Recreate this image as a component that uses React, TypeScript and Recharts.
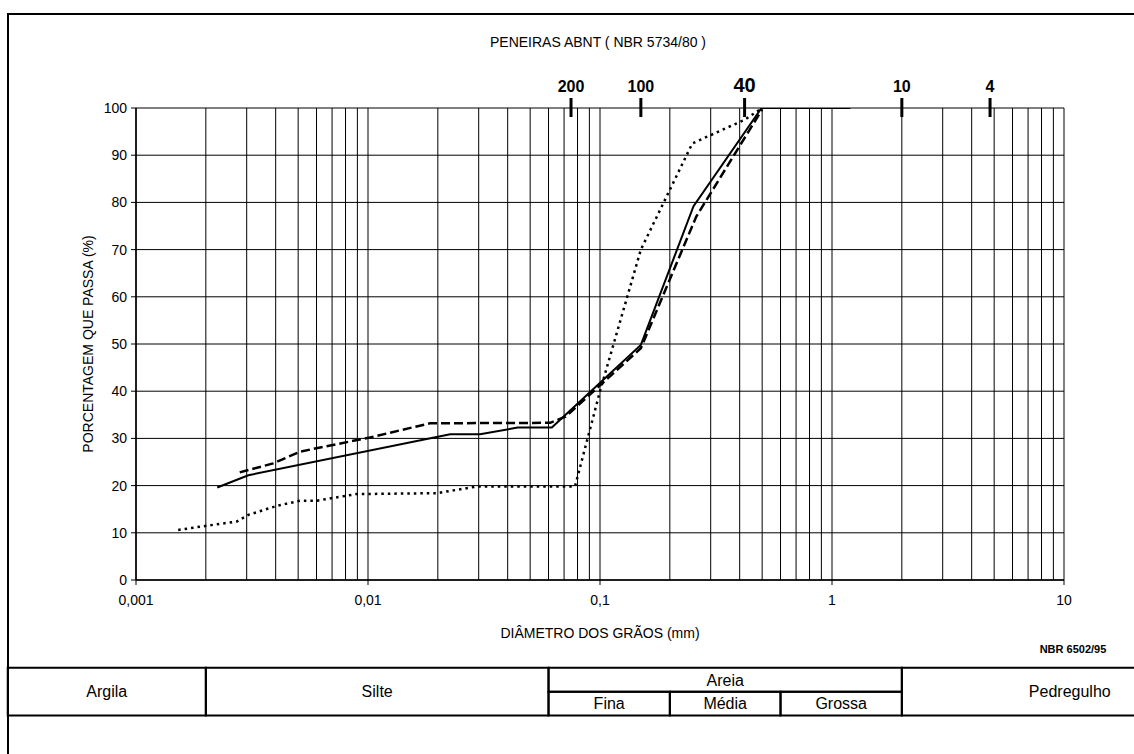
import { LineChart, Line, XAxis, YAxis, CartesianGrid, ReferenceArea, Label } from 'recharts'

// ---- amostras: diâmetro (mm) x porcentagem que passa ----
const amostra1Diam = [0.00224, 0.00305, 0.0226, 0.0304, 0.0442, 0.062, 0.15, 0.253, 0.497, 1.2]
const amostra1Passa = [19.6, 22.2, 30.9, 30.9, 32.3, 32.3, 49.8, 79.2, 100, 100]

const amostra2Diam = [0.0028, 0.0039, 0.0051, 0.0102, 0.0185, 0.061, 0.071, 0.15, 0.26, 0.5]
const amostra2Passa = [22.8, 24.7, 27.2, 30.2, 33.2, 33.3, 34.6, 49.1, 77, 99.7]

const amostra3Diam = [0.00152, 0.00202, 0.00272, 0.00305, 0.00404, 0.0051, 0.006, 0.0089, 0.0198, 0.0294, 0.078, 0.1, 0.15, 0.25, 0.42, 0.5]
const amostra3Passa = [10.6, 11.5, 12.4, 13.8, 15.7, 16.8, 16.8, 18.2, 18.4, 19.8, 19.8, 40, 70, 92.5, 97.5, 100]

// ---- eixos ----
const decadas = [0.001, 0.01, 0.1, 1, 10]
const decadasLabel = ['0,001', '0,01', '0,1', '1', '10']
const multiplos = [1, 2, 3, 4, 5, 6, 7, 8, 9]
const pctTicks = [0, 10, 20, 30, 40, 50, 60, 70, 80, 90, 100]

// peneiras ABNT (NBR 5734/80)
const peneirasNum = ['200', '100', '40', '10', '4']
const peneirasMm = [0.075, 0.15, 0.42, 2.0, 4.8]

// ---- classificação NBR 6502/95 (limites em mm) ----
const fracoes = ['Argila', 'Silte', 'Pedregulho']
const fracoesLim = [[0.00028, 0.002], [0.002, 0.06], [2.0, 40]]
const areias = ['Fina', 'Média', 'Grossa']
const areiasLim = [[0.06, 0.2], [0.2, 0.6], [0.6, 2.0]]

const gradeX = [...decadas.slice(0, 4).flatMap((d) => multiplos.map((m) => d * m)), 10]

const toSerie = (diam: number[], passa: number[]) => diam.map((d, i) => ({ d, p: passa[i] }))
const serie1 = toSerie(amostra1Diam, amostra1Passa)
const serie2 = toSerie(amostra2Diam, amostra2Passa)
const serie3 = toSerie(amostra3Diam, amostra3Passa)

// linhas da tabela, em unidades do eixo Y (abaixo do zero)
const TAB_TOP = -18.6
const TAB_MID = -23.7
const TAB_BOT = -28.7

function DecadeTick({ x, y, payload }: any) {
  const i = decadas.indexOf(payload.value)
  if (i < 0) return <g />
  return (
    <g>
      <line x1={x} x2={x} y1={y} y2={y + 5} stroke="#000" />
      <text x={x} y={y + 25} textAnchor="middle" fontSize={14} fill="#000">{decadasLabel[i]}</text>
    </g>
  )
}

function SieveTick({ x, y, payload }: any) {
  const i = peneirasMm.indexOf(payload.value)
  if (i < 0) return <g />
  return (
    <g>
      <line x1={x} x2={x} y1={y - 10} y2={y + 9} stroke="#000" strokeWidth={3} />
      <text x={x} y={y - 16} textAnchor="middle" fontSize={i === 2 ? 20 : 16} fontWeight="bold" fill="#000">{peneirasNum[i]}</text>
    </g>
  )
}

const cellLabel = (value: string) => ({ value, position: 'center' as const, fill: '#000', fontSize: 16 })

export default function App() {
  return (
    <div style={{ position: 'fixed', left: 0, top: 0, width: 1134, height: 754, overflow: 'hidden', background: '#fff', fontFamily: '"Liberation Sans", Arial, sans-serif' }}>
      <div style={{ position: 'absolute', left: 7, top: 13, width: 1300, height: 900, borderLeft: '2px solid #000', borderTop: '2px solid #000' }} />
      <div style={{ position: 'absolute', left: 398, top: 34, width: 400, textAlign: 'center', fontSize: 14, lineHeight: '16px' }}>
        PENEIRAS ABNT ( NBR 5734/80 )
      </div>
      <div style={{ position: 'absolute', left: 1013, top: 642, width: 120, textAlign: 'center', fontSize: 11, fontWeight: 'bold', lineHeight: '14px' }}>
        NBR 6502/95
      </div>
      <div style={{ position: 'absolute', left: 0, top: 0 }}>
        <LineChart width={1134} height={754} margin={{ top: 78, right: 70, left: 76, bottom: 144 }}>
          <CartesianGrid stroke="#000" strokeWidth={1} />
          <XAxis
            xAxisId={0}
            type="number"
            dataKey="d"
            scale="log"
            domain={[0.001, 10]}
            ticks={gradeX}
            interval={0}
            height={30}
            tickSize={0}
            tickMargin={0}
            tickLine={false}
            axisLine={{ stroke: '#000', strokeWidth: 1.5 }}
            tick={<DecadeTick />}
            allowDataOverflow
          >
            <Label value="DIÂMETRO DOS GRÃOS (mm)" position="bottom" offset={18} fill="#000" fontSize={14} />
          </XAxis>
          <XAxis
            xAxisId="top"
            orientation="top"
            type="number"
            dataKey="d"
            scale="log"
            domain={[0.001, 10]}
            ticks={peneirasMm}
            interval={0}
            height={30}
            tickSize={0}
            tickMargin={0}
            tickLine={false}
            axisLine={false}
            tick={<SieveTick />}
            allowDataOverflow
          />
          <YAxis
            type="number"
            domain={[0, 100]}
            ticks={pctTicks}
            interval={0}
            width={60}
            tickSize={5}
            tickMargin={4}
            axisLine={{ stroke: '#000', strokeWidth: 1.5 }}
            tickLine={{ stroke: '#000' }}
            tick={{ fill: '#000', fontSize: 14 }}
            allowDataOverflow
          >
            <Label value="PORCENTAGEM QUE PASSA (%)" angle={-90} position="insideLeft" offset={12} fill="#000" fontSize={14} style={{ textAnchor: 'middle' }} />
          </YAxis>

          {fracoes.map((f, i) => (
            <ReferenceArea key={f} x1={fracoesLim[i][0]} x2={fracoesLim[i][1]} y1={TAB_BOT} y2={TAB_TOP}
              ifOverflow="visible" fill="none" stroke="#000" strokeWidth={2}
              label={{ ...cellLabel(f), dx: f === 'Pedregulho' ? 17 : 0 }} />
          ))}
          <ReferenceArea x1={0.06} x2={2.0} y1={TAB_MID} y2={TAB_TOP} ifOverflow="visible" fill="none" stroke="#000" strokeWidth={2} label={cellLabel('Areia')} />
          {areias.map((a, i) => (
            <ReferenceArea key={a} x1={areiasLim[i][0]} x2={areiasLim[i][1]} y1={TAB_BOT} y2={TAB_MID}
              ifOverflow="visible" fill="none" stroke="#000" strokeWidth={2} label={cellLabel(a)} />
          ))}

          <Line data={serie3} dataKey="p" type="linear" stroke="#000" strokeWidth={2.5} strokeDasharray="2.5 4" dot={false} isAnimationActive={false} />
          <Line data={serie2} dataKey="p" type="linear" stroke="#000" strokeWidth={2.5} strokeDasharray="9 4" dot={false} isAnimationActive={false} />
          <Line data={serie1} dataKey="p" type="linear" stroke="#000" strokeWidth={2} dot={false} isAnimationActive={false} />
        </LineChart>
      </div>
    </div>
  )
}
